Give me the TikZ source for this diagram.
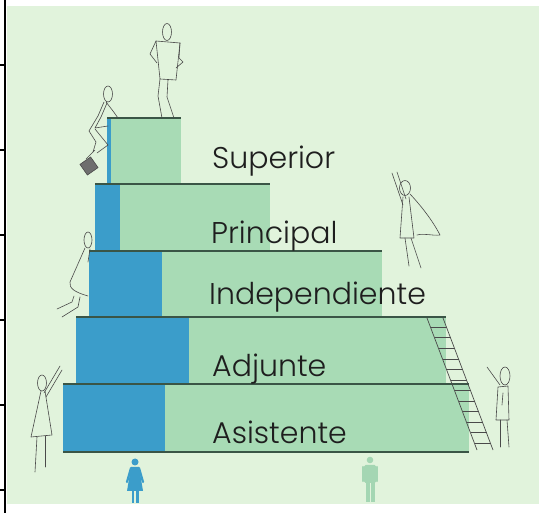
\documentclass[tikz,border=0pt]{standalone}
\usepackage{fontspec}
\setmainfont{Poppins}[UprightFont={* Light}]
\usetikzlibrary{calc}
\definecolor{bgc}{HTML}{E1F3DC}
\definecolor{stepg}{HTML}{A8DBB5}
\definecolor{stepb}{HTML}{3B9DCA}
\definecolor{edgec}{HTML}{3A5546}
\definecolor{txtc}{HTML}{1E1E1E}
\definecolor{figc}{HTML}{4A4A4A}
\definecolor{maleic}{HTML}{A4D6B3}
\tikzset{
  lbl/.style={anchor=base west, inner sep=0pt, text=txtc, font=\fontsize{30}{33}\selectfont},
  edgeline/.style={draw=edgec, line width=1.6pt},
  sketch/.style={draw=figc, line width=0.6pt, line join=round, line cap=round},
  rail/.style={draw=figc, line width=0.7pt}
}
\begin{document}
\begin{tikzpicture}[x=1pt,y=-1pt]
\useasboundingbox (0,0) rectangle (539,513);
\fill[white] (0,0) rectangle (539,513);
\fill[bgc] (7,6) rectangle (539,504);
% left axis
\draw[black, line width=1.8pt] (5,0) -- (5,513);
\foreach \yy in {65,150,235,320,405,490} \draw[black, line width=1.5pt] (0,\yy) -- (5,\yy);
% steps: Superior
\fill[stepg] (107,118) rectangle (181,184);
\fill[stepb] (107,118) rectangle (111,184);
\draw[edgeline] (107,118) -- (181,118);
% Principal
\fill[stepg] (95,184) rectangle (270,251);
\fill[stepb] (95,184) rectangle (120,251);
\draw[edgeline] (95,184) -- (270,184);
% Independiente
\fill[stepg] (89,251) rectangle (382,317);
\fill[stepb] (89,251) rectangle (162,317);
\draw[edgeline] (89,251) -- (382,251);
% Adjunte
\fill[stepg] (76,317) rectangle (446,384);
\fill[stepb] (76,317) rectangle (189,384);
\draw[edgeline] (76,317) -- (446,317);
% Asistente
\fill[stepg] (63,384) rectangle (469,452);
\fill[stepb] (63,384) rectangle (165,452);
\draw[edgeline] (63,384) -- (469,384);
\draw[edgeline] (63,452) -- (469,452);
% labels
\node[lbl] (tsup) at (212,169) {Superior};
\node[lbl] (tpri) at (211,244) {Principal};
\node[lbl] (tind) at (209,305) {Independiente};
\node[lbl] (tadj) at (212,377) {Adjunte};
\node[lbl] (tasi) at (212,443) {Asistente};
% ladder
\coordinate (la) at (427,318); \coordinate (lb) at (477,450);
\coordinate (ra) at (443,318); \coordinate (rb) at (493,450);
\draw[rail] (la) -- (lb);
\draw[rail] (ra) -- (rb);
\foreach \t in {0.07,0.15,0.23,0.31,0.39,0.47,0.55,0.63,0.71,0.79,0.87,0.95}
  \draw[rail] ($(la)!\t!(lb)$) -- ($(ra)!\t!(rb)$);
% figure 1: standing on top
\draw[sketch] (167,32) ellipse (4.5 and 8.5);
\draw[sketch] (156,41) -- (180,43) -- (176,80) -- (160,79) -- cycle;
\draw[sketch] (156,41) -- (150,54) -- (157,63);
\draw[sketch] (180,43) -- (179,58) -- (183,62) -- (176,68);
\draw[sketch] (160,79) -- (158,96) -- (162,118);
\draw[sketch] (168,80) -- (167,97) -- (174,118);
% figure 2: climber with bag
\draw[sketch] (108,94) ellipse (4.5 and 8);
\draw[sketch] (106,102) -- (113,111) -- (118,118);
\draw[sketch] (104,102) -- (98,116) -- (89,131) -- (96,142) -- (93,152);
\draw[sketch] (107,103) -- (101,117) -- (95,128) -- (108,126);
\draw[sketch] (95,129) -- (108,145) -- (97,153);
\filldraw[fill=figc!80, draw=figc, line width=0.6pt, rotate around={35:(89,166)}] (82.5,159.5) rectangle (95.5,172.5);
\draw[sketch] (86,159) -- (95,150);
% figure 3: caped flyer
\draw[sketch] (392,173) -- (403,205);
\draw[sketch] (397,172) -- (406,199);
\draw[sketch] (405,188) ellipse (5.5 and 7.5);
\draw[sketch] (403,197) -- (400,238) -- (414,238) -- (409,197);
\draw[sketch] (410,194) .. controls (425,210) and (435,225) .. (440,235) .. controls (432,236) and (425,233) .. (417,235);
\draw[sketch] (405,238) -- (409,266);
\draw[sketch] (411,238) -- (421,268);
% figure 4: hanging at Independiente
\draw[sketch] (88,240) ellipse (4 and 8);
\draw[sketch] (85,248) -- (70,282) .. controls (69,288) and (74,292) .. (88,296);
\draw[sketch] (90,249) -- (88,262);
\draw[sketch] (74,296) -- (72,302) -- (57,309);
\draw[sketch] (80,297) -- (78,307) -- (62,317);
% figure 5: left of Asistente
\draw[sketch] (42,383) ellipse (4.5 and 8);
\draw[sketch] (44,393) -- (60,366);
\draw[sketch] (46,397) -- (62,370);
\draw[sketch] (41,391) -- (31,437) -- (52,435) -- (45,391);
\draw[sketch] (37,437) -- (35,472);
\draw[sketch] (45,436) -- (45,467);
% figure 6: right of ladder
\draw[sketch] (505,376) ellipse (5 and 9);
\draw[sketch] (500,385) -- (487,367);
\draw[sketch] (498,387) -- (508,386) -- (509,420) -- (496,420) -- cycle;
\draw[sketch] (503,393) -- (502,405);
\draw[sketch] (500,420) -- (500,447);
\draw[sketch] (507,420) -- (509,447);
% female icon
\fill[stepb] (135,462) circle (3.5);
\fill[stepb] (131,467) -- (139,467) -- (143,491) -- (127,491) -- cycle;
\draw[stepb, line width=2.2pt, line cap=round] (131,468) -- (127,482);
\draw[stepb, line width=2.2pt, line cap=round] (139,468) -- (143,482);
\fill[stepb] (131.5,490) rectangle (134.2,503);
\fill[stepb] (135.8,490) rectangle (138.5,503);
% male icon
\fill[maleic] (370,460) circle (3.3);
\fill[maleic, rounded corners=1.5pt] (364,465) rectangle (376,483);
\draw[maleic, line width=2.2pt, line cap=round] (363,467) -- (363,481);
\draw[maleic, line width=2.2pt, line cap=round] (377,467) -- (377,481);
\fill[maleic] (365.5,482) rectangle (369.5,502);
\fill[maleic] (370.5,482) rectangle (374.5,502);
\end{tikzpicture}
\end{document}
